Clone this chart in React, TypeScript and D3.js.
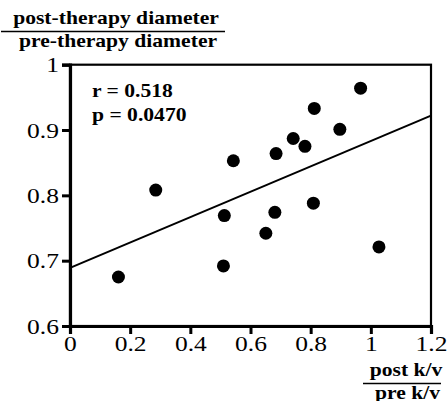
import React from "react";
import * as d3 from "d3";

// ratio of post/pre k/v vs ratio of post/pre diameter
const kvRatio = [0.161, 0.285, 0.543, 0.513, 0.51, 0.685, 0.681, 0.651, 0.742, 0.781, 0.812, 0.809, 0.897, 0.966, 1.027];
const diamRatio = [0.675, 0.808, 0.853, 0.769, 0.692, 0.864, 0.774, 0.742, 0.887, 0.875, 0.933, 0.788, 0.901, 0.964, 0.721];
const fitLine = [{ x: 0, y: 0.689 }, { x: 1.2, y: 0.922 }];
const xTicks = [0, 0.2, 0.4, 0.6, 0.8, 1, 1.2];
const yTicks = [0.6, 0.7, 0.8, 0.9, 1];
const stats = ["r = 0.518", "p = 0.0470"];

const font = "'Liberation Serif', 'Times New Roman', serif";
const sx = 1.2; // the original type is a bit wide, stretch it

function label(g: d3.Selection<SVGGElement, unknown, null, undefined>, x: number, y: number, txt: string) {
  g.append("text")
    .attr("transform", `translate(${x},${y}) scale(${sx},1)`)
    .text(txt);
}

function drawChart(svgRef: React.RefObject<SVGSVGElement | null>) {
  const w = 448;
  const h = 401;
  const svg = d3.select(svgRef.current);
  svg.selectAll("*").remove();
  svg.attr("width", w).attr("height", h);

  const x = d3.scaleLinear().domain([0, 1.2]).range([70, 431]);
  const y = d3.scaleLinear().domain([0.6, 1]).range([326, 64.7]);

  // frame
  svg.append("rect")
    .attr("x", x(0)).attr("y", y(1))
    .attr("width", x(1.2) - x(0)).attr("height", y(0.6) - y(1))
    .attr("fill", "none").attr("stroke", "black").attr("stroke-width", 2.2);

  // y axis
  const yAxis = svg.append("g")
    .attr("transform", `translate(${x(0)},0)`)
    .call(d3.axisLeft(y).tickValues(yTicks).tickSize(8).tickPadding(3).tickFormat(d => d3.format("")(d as number)));
  yAxis.attr("font-family", font);
  yAxis.select(".domain").attr("stroke-width", 3.2);
  yAxis.selectAll(".tick line").attr("stroke-width", 3);
  yAxis.selectAll(".tick text")
    .attr("font-family", font).attr("font-size", 22).attr("fill", "black")
    .attr("x", -11 / 1.16).attr("transform", "scale(1.16,1)");

  // x axis
  const xAxis = svg.append("g")
    .attr("transform", `translate(0,${y(0.6)})`)
    .call(d3.axisBottom(x).tickValues(xTicks).tickSize(8).tickPadding(1).tickFormat(d => d3.format("")(d as number)));
  xAxis.attr("font-family", font);
  xAxis.select(".domain").attr("stroke-width", 3.2);
  xAxis.selectAll(".tick line").attr("stroke-width", 3);
  xAxis.selectAll(".tick text")
    .attr("font-family", font).attr("font-size", 22).attr("fill", "black")
    .attr("transform", "scale(1.16,1)");

  // regression line
  const line = d3.line<{ x: number; y: number }>().x(d => x(d.x)).y(d => y(d.y));
  svg.append("path")
    .datum(fitLine)
    .attr("fill", "none")
    .attr("stroke", "black")
    .attr("stroke-width", 2)
    .attr("d", line);

  // points
  svg.append("g")
    .selectAll("circle")
    .data(kvRatio)
    .join("circle")
    .attr("cx", d => x(d))
    .attr("cy", (d, i) => y(diamRatio[i]))
    .attr("r", 6.5)
    .attr("fill", "black");

  // stats
  const st = svg.append("g").attr("font-family", font).attr("font-weight", "bold").attr("font-size", 18);
  stats.forEach((s, i) => label(st, 92, 97 + i * 23.5, s));

  // y label (fraction)
  const yl = svg.append("g").attr("font-family", font).attr("font-weight", "bold").attr("font-size", 18).attr("text-anchor", "middle");
  label(yl, 116, 24, "post-therapy diameter");
  yl.append("line").attr("x1", 1).attr("x2", 225).attr("y1", 31.5).attr("y2", 31.5).attr("stroke", "black").attr("stroke-width", 1.5);
  label(yl, 118, 47, "pre-therapy diameter");

  // x label (fraction)
  const xl = svg.append("g").attr("font-family", font).attr("font-weight", "bold").attr("font-size", 18).attr("text-anchor", "middle");
  label(xl, 406, 375.5, "post k/v");
  xl.append("line").attr("x1", 363).attr("x2", 441).attr("y1", 383.5).attr("y2", 383.5).attr("stroke", "black").attr("stroke-width", 1.5);
  label(xl, 407.5, 398.5, "pre k/v");
}

const App = () => {
  const svg = React.useRef<SVGSVGElement>(null);

  React.useEffect(() => {
    drawChart(svg);
  }, [svg]);

  return (
    <div style={{ position: "absolute", left: 0, top: 0, background: "white" }}>
      <svg ref={svg} style={{ display: "block" }} />
    </div>
  );
};

export default App;
